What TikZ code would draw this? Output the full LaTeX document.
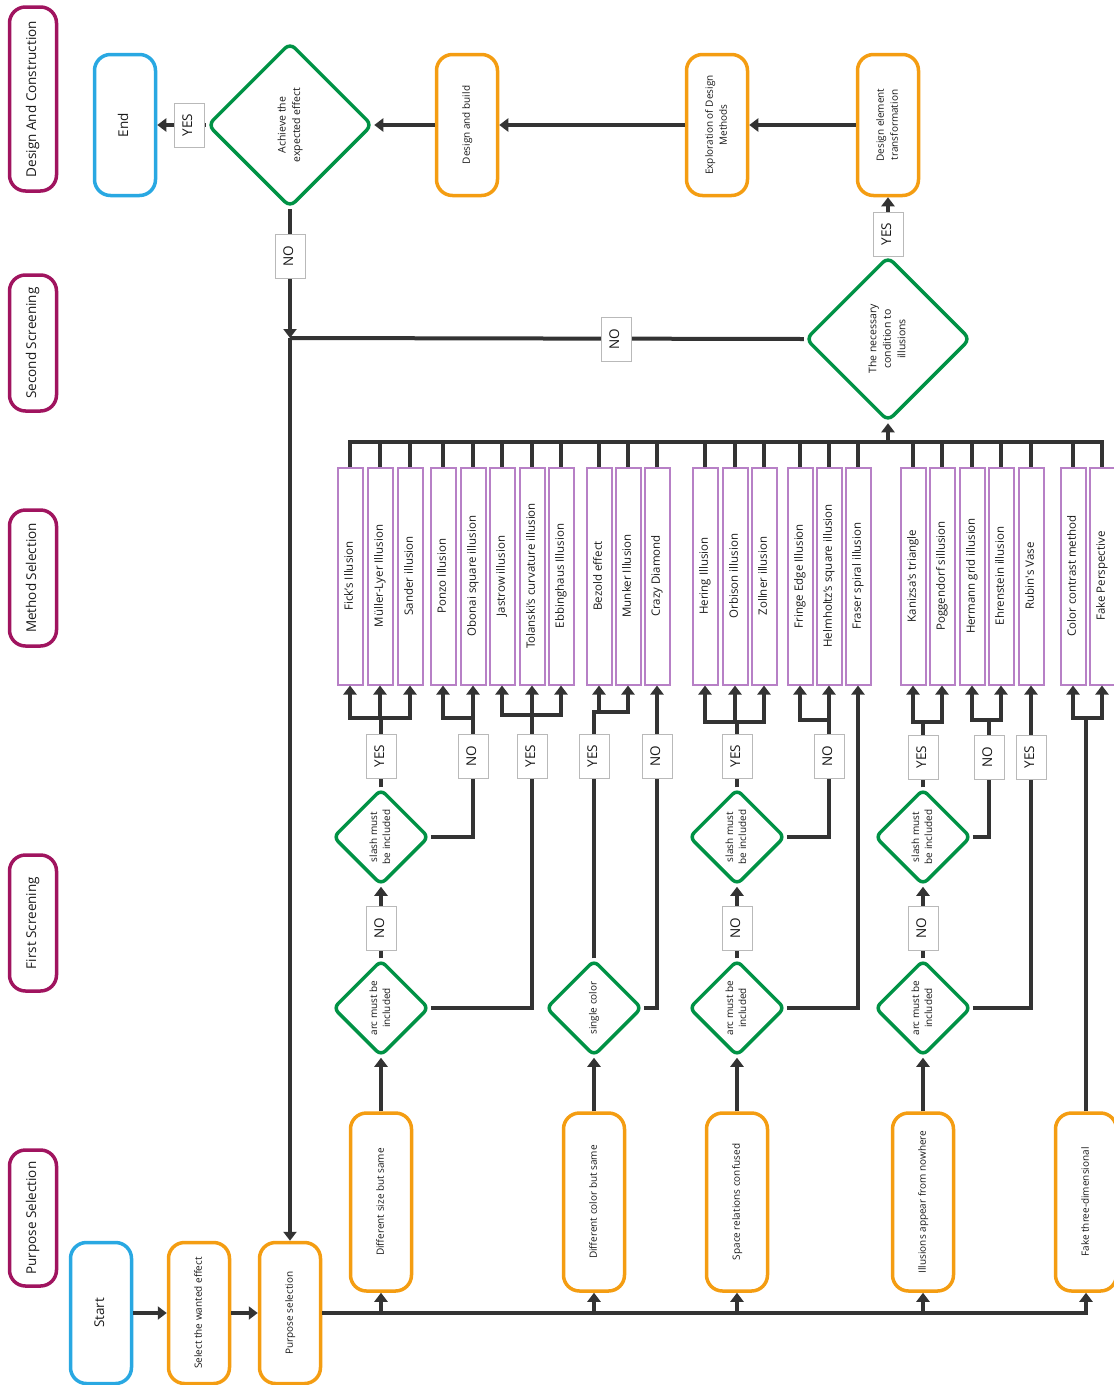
\documentclass[tikz,border=0pt]{standalone}
\usepackage{fontspec}
\setmainfont{Open Sans}
\usepackage{graphicx}
\usetikzlibrary{arrows.meta,shapes.geometric}

\definecolor{lineC}{RGB}{51,51,51}
\definecolor{orangeC}{RGB}{244,157,18}
\definecolor{blueC}{RGB}{41,168,226}
\definecolor{greenC}{RGB}{0,146,69}
\definecolor{purpC}{RGB}{183,128,198}
\definecolor{stageC}{RGB}{160,20,95}
\definecolor{grayC}{RGB}{185,185,185}
\definecolor{textC}{RGB}{25,25,25}

% vertical (bottom-to-top) text, several lines allowed
\newcommand{\vtext}[1]{\rotatebox{90}{\begin{tabular}{@{}c@{}}#1\end{tabular}}}

\tikzset{
  conn/.style={line width=4pt, draw=lineC},
  arr/.style={conn, -{Triangle[width=13pt,length=9pt]}},
  stagebox/.style={draw=stageC, line width=3.5pt, rounded corners=16pt,
    minimum width=47pt, inner sep=0pt, text=textC,
    font=\fontsize{13.5}{16}\selectfont},
  termbox/.style={draw=blueC, line width=3.5pt, rounded corners=16pt,
    minimum width=61pt, minimum height=141pt, inner sep=0pt, text=textC,
    font=\fontsize{13.5}{16}\selectfont},
  procbox/.style={draw=orangeC, line width=3.5pt, rounded corners=16pt,
    minimum width=61pt, minimum height=141pt, inner sep=0pt, text=textC,
    font=\fontsize{10}{14}\selectfont},
  purpbox/.style={procbox, minimum height=178pt},
  methbox/.style={draw=purpC, line width=2pt, minimum width=25pt,
    minimum height=217pt, inner sep=0pt, text=textC,
    font=\fontsize{11.5}{14}\selectfont},
  decbig/.style={diamond, draw=greenC, line width=3.5pt, rounded corners=7pt,
    minimum width=165pt, minimum height=165pt, inner sep=0pt, text=textC,
    font=\fontsize{10.5}{14.5}\selectfont},
  decsmall/.style={decbig, minimum width=96pt, minimum height=96pt,
    rounded corners=6pt, font=\fontsize{10}{13}\selectfont},
  yn/.style={draw=grayC, line width=1pt, fill=white, minimum width=30pt,
    minimum height=44pt, inner sep=0pt, text=textC,
    font=\fontsize{13.5}{16}\selectfont},
}

\begin{document}
\begin{tikzpicture}[x=1pt,y=-1pt]
\useasboundingbox (0,0) rectangle (1114,1385);

% stage labels
\node[stagebox, minimum height=184pt] (sDC) at (33,99)   {\vtext{Design And Construction}};
\node[stagebox, minimum height=136pt] (sSS) at (33,343)  {\vtext{Second Screening}};
\node[stagebox, minimum height=136pt] (sMS) at (33,578)  {\vtext{Method Selection}};
\node[stagebox, minimum height=136pt] (sFS) at (33,923)  {\vtext{First Screening}};
\node[stagebox, minimum height=136pt] (sPS) at (33,1218) {\vtext{Purpose Selection}};

% design and construction row
\node[termbox] (end)   at (125,125) {\vtext{End}};
\node[decbig]  (ach)   at (290,125) {\vtext{Achieve the\\expected effect}};
\node[procbox] (build) at (467,125) {\vtext{Design and build}};
\node[procbox] (expl)  at (717,125) {\vtext{Exploration of Design\\Methods}};
\node[procbox] (trans) at (888,125) {\vtext{Design element\\transformation}};

% second screening
\node[decbig] (nec) at (888,339) {\vtext{The necessary\\condition to\\illusions}};
\coordinate (ret) at (290,338);

% start and purpose selection
\node[termbox] (start) at (101,1313) {\vtext{Start}};
\node[procbox] (sel)   at (199,1313) {\vtext{Select the wanted effect}};
\node[procbox] (psel)  at (290,1313) {\vtext{Purpose selection}};

\node[purpbox] (p1) at (381,1202)  {\vtext{Different size but same}};
\node[purpbox] (p2) at (594,1202)  {\vtext{Different color but same}};
\node[purpbox] (p3) at (737,1202)  {\vtext{Space relations confused}};
\node[purpbox] (p4) at (923,1202)  {\vtext{Illusions appear from nowhere}};
\node[purpbox] (p5) at (1086,1202) {\vtext{Fake three-dimensional}};

% first screening decisions
\node[decsmall] (a1) at (381,1008) {\vtext{arc must be\\included}};
\node[decsmall] (b1) at (381,837)  {\vtext{slash must\\be included}};
\node[decsmall] (c2) at (594,1008) {\vtext{single color}};
\node[decsmall] (a3) at (737,1008) {\vtext{arc must be\\included}};
\node[decsmall] (b3) at (737,837)  {\vtext{slash must\\be included}};
\node[decsmall] (a4) at (923,1008) {\vtext{arc must be\\included}};
\node[decsmall] (b4) at (923,837)  {\vtext{slash must\\be included}};

% methods
\node[methbox] (m1)  at (350,576)  {\vtext{Fick’s Illusion}};
\node[methbox] (m2)  at (380,576)  {\vtext{Müller-Lyer Illusion}};
\node[methbox] (m3)  at (410,576)  {\vtext{Sander illusion}};
\node[methbox] (m4)  at (443,576)  {\vtext{Ponzo Illusion}};
\node[methbox] (m5)  at (473,576)  {\vtext{Obonai square illusion}};
\node[methbox] (m6)  at (502,576)  {\vtext{Jastrow illusion}};
\node[methbox] (m7)  at (532,576)  {\vtext{Tolanski’s curvature illusion}};
\node[methbox] (m8)  at (561,576)  {\vtext{Ebbinghaus Illusion}};
\node[methbox] (m9)  at (599,576)  {\vtext{Bezold effect}};
\node[methbox] (m10) at (628,576)  {\vtext{Munker Illusion}};
\node[methbox] (m11) at (657,576)  {\vtext{Crazy Diamond}};
\node[methbox] (m12) at (705,576)  {\vtext{Hering Illusion}};
\node[methbox] (m13) at (735,576)  {\vtext{Orbison illusion}};
\node[methbox] (m14) at (764,576)  {\vtext{Zollner illusion}};
\node[methbox] (m15) at (800,576)  {\vtext{Fringe Edge Illusion}};
\node[methbox] (m16) at (829,576)  {\vtext{Helmholtz’s square illusion}};
\node[methbox] (m17) at (858,576)  {\vtext{Fraser spiral illusion}};
\node[methbox] (m18) at (913,576)  {\vtext{Kanizsa\textquotesingle s triangle}};
\node[methbox] (m19) at (942,576)  {\vtext{Poggendorf sillusion}};
\node[methbox] (m20) at (972,576)  {\vtext{Hermann grid illusion}};
\node[methbox] (m21) at (1001,576) {\vtext{Ehrenstein illusion}};
\node[methbox] (m22) at (1031,576) {\vtext{Rubin\textquotesingle s Vase}};
\node[methbox] (m23) at (1073,576) {\vtext{Color contrast method}};
\node[methbox] (m24) at (1102,576) {\vtext{Fake Perspective}};

% ---- connectors ----
% design and construction
\draw[arr] (trans.west) -- (expl.east);
\draw[arr] (expl.west) -- (build.east);
\draw[arr] (build.west) -- (ach.east);
\draw[arr] (ach.west) -- (end.east);
\draw[arr] (nec.north) -- (trans.south);
\draw[arr] (ach.south) -- (ret);
\draw[conn] (nec.west) -- (ret);
\draw[arr] (ret) -- (psel.north);

% method bus into the second screening
\coordinate (busL) at (350,442);
\draw[conn] (m1.north) |- (m24.north |- busL) -- (m24.north);
\foreach \m in {m2,m3,m4,m5,m6,m7,m8,m9,m10,m11,m12,m13,m14,m15,m16,m17,m18,m19,m20,m21,m22,m23}
  \draw[conn] (\m.north) -- (\m.north |- busL);
\draw[arr] (nec.south |- busL) -- (nec.south);

% start to purposes
\draw[arr] (start.east) -- (sel.west);
\draw[arr] (sel.east) -- (psel.west);
\draw[arr] (psel.east) -| (p5.south);
\foreach \p in {p1,p2,p3,p4}
  \draw[arr] (\p.south |- psel.east) -- (\p.south);

% purposes to first decisions
\draw[arr] (p1.north) -- (a1.south);
\draw[arr] (p2.north) -- (c2.south);
\draw[arr] (p3.north) -- (a3.south);
\draw[arr] (p4.north) -- (a4.south);
\draw[arr] (a1.north) -- (b1.south);
\draw[arr] (a3.north) -- (b3.south);
\draw[arr] (a4.north) -- (b4.south);

% group: different size
\draw[arr] (b1.north) -- (b1.north |- 0,718) -| (m1.south);
\draw[arr] (b1.north |- 0,718) -| (m3.south);
\draw[arr] (m2.south |- 0,718) -- (m2.south);
\draw[arr] (b1.east) -| (m5.south);
\draw[arr] (m5.south |- 0,718) -| (m4.south);
\draw[arr] (a1.east) -| (m7.south);
\draw[arr] (m7.south |- 0,715) -| (m6.south);
\draw[arr] (m7.south |- 0,715) -| (m8.south);

% group: different color
\draw[arr] (c2.north) -- (c2.north |- 0,712) -| (m10.south);
\draw[arr] (m9.south |- 0,712) -- (m9.south);
\draw[arr] (c2.east) -| (m11.south);

% group: space relations
\draw[arr] (b3.north) -- (b3.north |- 0,722) -| (m12.south);
\draw[arr] (b3.north |- 0,722) -| (m14.south);
\draw[arr] (m13.south |- 0,722) -- (m13.south);
\draw[arr] (b3.east) -| (m16.south);
\draw[arr] (m16.south |- 0,720) -| (m15.south);
\draw[arr] (a3.east) -| (m17.south);

% group: illusions from nowhere
\draw[arr] (b4.north) -- (b4.north |- 0,722) -| (m18.south);
\draw[arr] (b4.north |- 0,722) -| (m19.south);
\coordinate (n4) at (989,720);
\draw[conn] (b4.east) -| (n4);
\draw[arr] (n4) -| (m20.south);
\draw[arr] (n4) -| (m21.south);
\draw[arr] (a4.east) -| (m22.south);

% group: fake three-dimensional
\coordinate (n5) at (1086,718);
\draw[conn] (p5.north) -- (n5);
\draw[arr] (n5) -| (m23.south);
\draw[arr] (n5) -| (m24.south);

% ---- yes / no labels ----
\node[yn] (lY1) at (189,125)  {\vtext{YES}};
\node[yn] (lN1) at (290,256)  {\vtext{NO}};
\node[yn] (lY2) at (888,234)  {\vtext{YES}};
\node[yn] (lN2) at (616,339)  {\vtext{NO}};

\node[yn] (lN3)  at (381,928)  {\vtext{NO}};
\node[yn] (lY3)  at (381,756)  {\vtext{YES}};
\node[yn] (lN4)  at (473,756)  {\vtext{NO}};
\node[yn] (lY4)  at (532,756)  {\vtext{YES}};
\node[yn] (lY5)  at (594,756)  {\vtext{YES}};
\node[yn] (lN5)  at (657,756)  {\vtext{NO}};
\node[yn] (lN6)  at (737,928)  {\vtext{NO}};
\node[yn] (lY6)  at (737,756)  {\vtext{YES}};
\node[yn] (lN7)  at (829,756)  {\vtext{NO}};
\node[yn] (lN8)  at (923,928)  {\vtext{NO}};
\node[yn] (lY8)  at (923,757)  {\vtext{YES}};
\node[yn] (lN9)  at (989,757)  {\vtext{NO}};
\node[yn] (lY9)  at (1031,757) {\vtext{YES}};
\end{tikzpicture}
\end{document}
